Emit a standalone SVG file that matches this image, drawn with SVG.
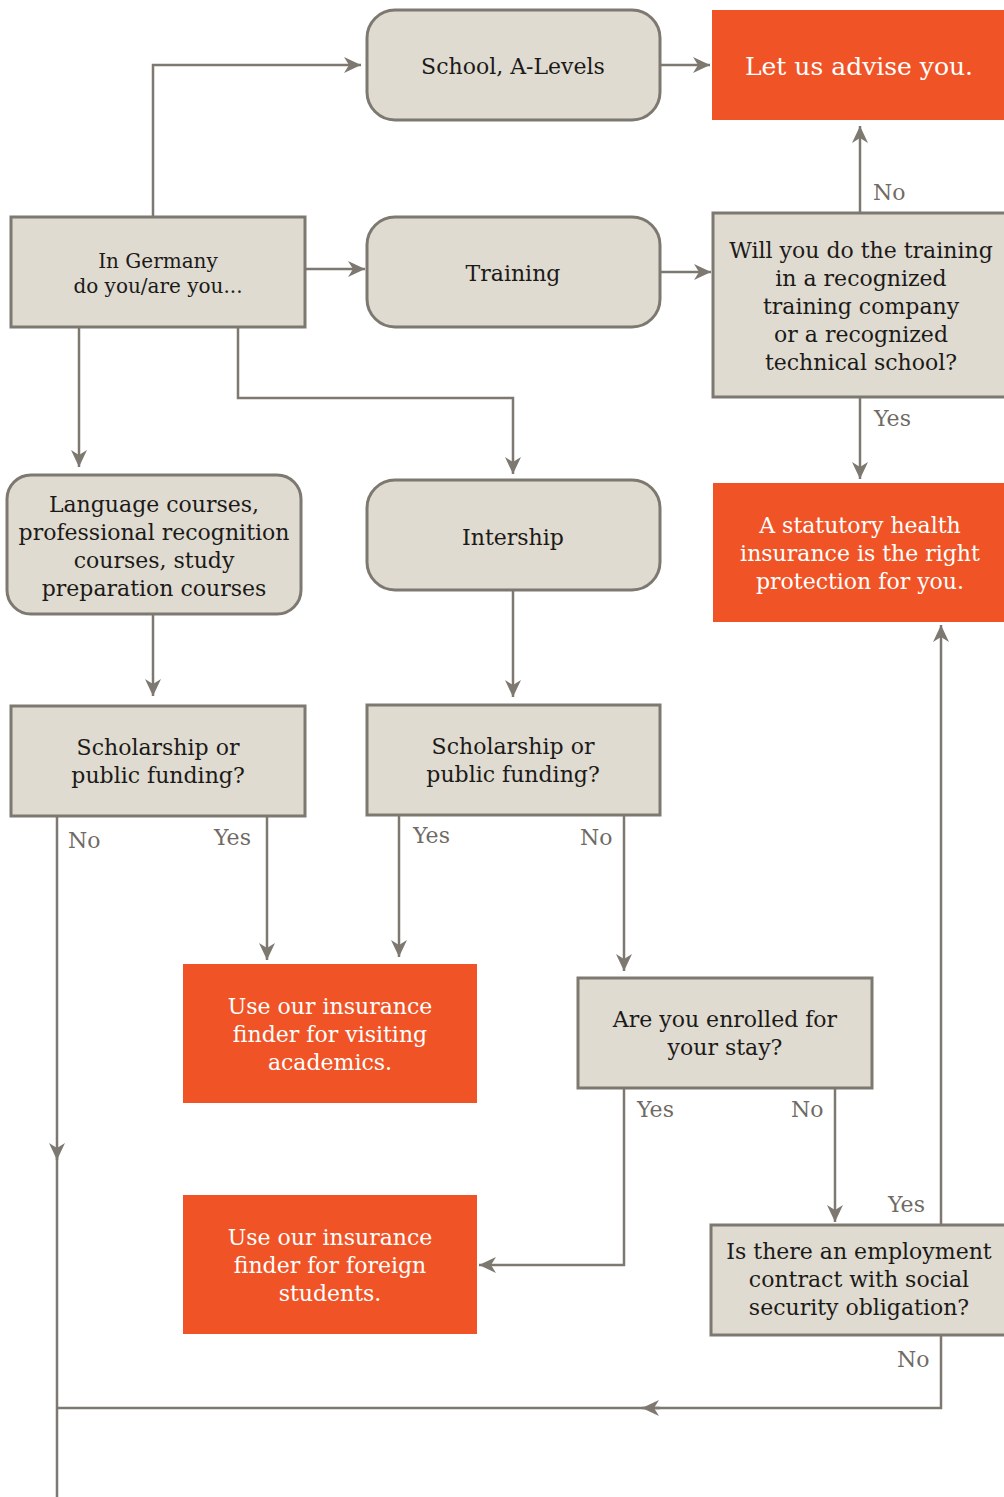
<svg xmlns="http://www.w3.org/2000/svg" width="1004" height="1497" viewBox="0 0 1004 1497">
<style>
.g{fill:#dfdbd0;stroke:#7d7870;stroke-width:3}
.o{fill:#f05426}
.t{font-family:"DejaVu Serif","Liberation Serif",serif;font-size:22px;fill:#1c1a18;text-anchor:middle}
.w{font-family:"DejaVu Serif","Liberation Serif",serif;font-size:22px;fill:#ffffff;text-anchor:middle}
.l{font-family:"DejaVu Serif","Liberation Serif",serif;font-size:22px;fill:#6f6a64}
.c{fill:none;stroke:#7d7870;stroke-width:2.5}
</style>
<defs>
<marker id="a" markerUnits="userSpaceOnUse" markerWidth="18" markerHeight="16" refX="17" refY="8" orient="auto">
<path d="M0,0 L17,8 L0,16 L5,8 z" fill="#7d7870"/>
</marker>
</defs>
<g id="connectors">
<path class="c" d="M153,217 V65 H361" marker-end="url(#a)"/>
<path class="c" d="M660,65 H710" marker-end="url(#a)"/>
<path class="c" d="M305,269 H365" marker-end="url(#a)"/>
<path class="c" d="M660,272 H711" marker-end="url(#a)"/>
<path class="c" d="M860,213 V126" marker-end="url(#a)"/>
<path class="c" d="M860,397 V479" marker-end="url(#a)"/>
<path class="c" d="M79,327 V467" marker-end="url(#a)"/>
<path class="c" d="M238,327 V398 H513 V474" marker-end="url(#a)"/>
<path class="c" d="M153,614 V696" marker-end="url(#a)"/>
<path class="c" d="M513,590 V697" marker-end="url(#a)"/>
<path class="c" d="M57,816 V1160" marker-end="url(#a)"/>
<path class="c" d="M57,1150 V1497"/>
<path class="c" d="M267,816 V960" marker-end="url(#a)"/>
<path class="c" d="M399,815 V957" marker-end="url(#a)"/>
<path class="c" d="M624,815 V971" marker-end="url(#a)"/>
<path class="c" d="M624,1088 V1265 H479" marker-end="url(#a)"/>
<path class="c" d="M835,1088 V1222" marker-end="url(#a)"/>
<path class="c" d="M941,1225 V625" marker-end="url(#a)"/>
<path class="c" d="M941,1335 V1408 H642" marker-end="url(#a)"/>
<path class="c" d="M660,1408 H57"/>
<text class="l" x="873" y="200">No</text>
<text class="l" x="874" y="426">Yes</text>
<text class="l" x="68" y="848">No</text>
<text class="l" x="214" y="845">Yes</text>
<text class="l" x="413" y="843">Yes</text>
<text class="l" x="580" y="845">No</text>
<text class="l" x="637" y="1117">Yes</text>
<text class="l" x="791" y="1117">No</text>
<text class="l" x="888" y="1212">Yes</text>
<text class="l" x="897" y="1367">No</text>
</g>
<g id="school">
<rect class="g" x="367" y="10" width="293" height="110" rx="28"/>
<text class="t" x="513" y="74">School, A-Levels</text>
</g>
<g id="advise">
<rect class="o" x="712" y="10" width="295" height="110"/>
<text class="w" x="859" y="75" style="font-size:25px">Let us advise you.</text>
</g>
<g id="germany">
<rect class="g" x="11" y="217" width="294" height="110"/>
<text class="t" x="158" y="268" style="font-size:20px">In Germany</text>
<text class="t" x="158" y="293" style="font-size:20px">do you/are you...</text>
</g>
<g id="training">
<rect class="g" x="367" y="217" width="293" height="110" rx="28"/>
<text class="t" x="513" y="281">Training</text>
</g>
<g id="recognized">
<rect class="g" x="713" y="213" width="300" height="184"/>
<text class="t" x="861" y="258">Will you do the training</text>
<text class="t" x="861" y="286">in a recognized</text>
<text class="t" x="861" y="314">training company</text>
<text class="t" x="861" y="342">or a recognized</text>
<text class="t" x="861" y="370">technical school?</text>
</g>
<g id="language">
<rect class="g" x="7" y="475" width="294" height="139" rx="24"/>
<text class="t" x="154" y="512">Language courses,</text>
<text class="t" x="154" y="540">professional recognition</text>
<text class="t" x="154" y="568">courses, study</text>
<text class="t" x="154" y="596">preparation courses</text>
</g>
<g id="intership">
<rect class="g" x="367" y="480" width="293" height="110" rx="28"/>
<text class="t" x="513" y="545">Intership</text>
</g>
<g id="statutory">
<rect class="o" x="713" y="483" width="295" height="139"/>
<text class="w" x="860" y="533">A statutory health</text>
<text class="w" x="860" y="561">insurance is the right</text>
<text class="w" x="860" y="589">protection for you.</text>
</g>
<g id="scholarship1">
<rect class="g" x="11" y="706" width="294" height="110"/>
<text class="t" x="158" y="755">Scholarship or</text>
<text class="t" x="158" y="783">public funding?</text>
</g>
<g id="scholarship2">
<rect class="g" x="367" y="705" width="293" height="110"/>
<text class="t" x="513" y="754">Scholarship or</text>
<text class="t" x="513" y="782">public funding?</text>
</g>
<g id="visiting">
<rect class="o" x="183" y="964" width="294" height="139"/>
<text class="w" x="330" y="1014">Use our insurance</text>
<text class="w" x="330" y="1042">finder for visiting</text>
<text class="w" x="330" y="1070">academics.</text>
</g>
<g id="enrolled">
<rect class="g" x="578" y="978" width="294" height="110"/>
<text class="t" x="725" y="1027">Are you enrolled for</text>
<text class="t" x="725" y="1055">your stay?</text>
</g>
<g id="foreign">
<rect class="o" x="183" y="1195" width="294" height="139"/>
<text class="w" x="330" y="1245">Use our insurance</text>
<text class="w" x="330" y="1273">finder for foreign</text>
<text class="w" x="330" y="1301">students.</text>
</g>
<g id="employment">
<rect class="g" x="711" y="1225" width="300" height="110"/>
<text class="t" x="859" y="1259">Is there an employment</text>
<text class="t" x="859" y="1287">contract with social</text>
<text class="t" x="859" y="1315">security obligation?</text>
</g>
</svg>
